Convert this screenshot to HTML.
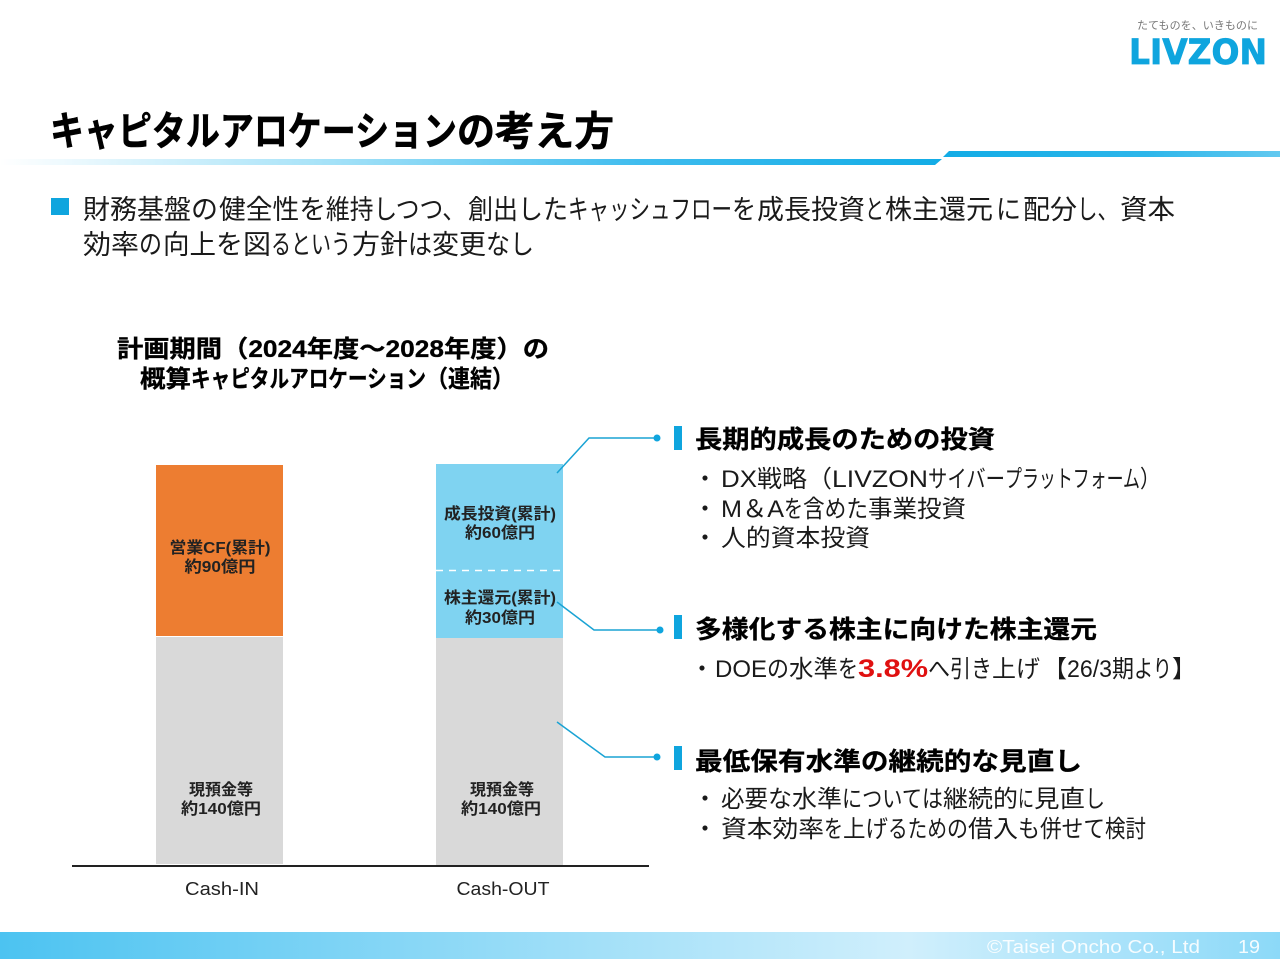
<!DOCTYPE html>
<html lang="ja">
<head>
<meta charset="utf-8">
<style>
html,body{margin:0;padding:0;background:#fff;width:1280px;height:960px;overflow:hidden}
svg{display:block;font-family:"Liberation Sans","Noto Sans CJK JP",sans-serif}
.b{font-weight:700}
</style>
</head>
<body>
<svg width="1280" height="960" viewBox="0 0 1280 960" xmlns="http://www.w3.org/2000/svg">
<defs>
<linearGradient id="g1" x1="0" x2="1" y1="0" y2="0"><stop offset="0" stop-color="#fff"/><stop offset="0.35" stop-color="#a5e2f8"/><stop offset="0.68" stop-color="#3fbcee"/><stop offset="1" stop-color="#12ace6"/></linearGradient>
<linearGradient id="g2" x1="0" x2="1" y1="0" y2="0"><stop offset="0" stop-color="#12ace6"/><stop offset="0.6" stop-color="#2db6ea"/><stop offset="1" stop-color="#62c9f0"/></linearGradient>
<linearGradient id="g3" x1="0" x2="1" y1="0" y2="0"><stop offset="0" stop-color="#4cc3f1"/><stop offset="0.71" stop-color="#d0effc"/><stop offset="1" stop-color="#8cd9f8"/></linearGradient>
</defs>

<!-- logo -->
<text x="1137" y="29" font-size="11" fill="#777" textLength="121" lengthAdjust="spacingAndGlyphs">たてものを、いきものに</text>
<text x="1129" y="64" font-size="35" class="b" fill="#0fa5de" stroke="#0fa5de" stroke-width="0.8" textLength="138" lengthAdjust="spacingAndGlyphs" style="font-family:'DejaVu Sans',sans-serif">LIVZON</text>

<!-- title -->
<g font-size="40" class="b" fill="#000" stroke="#000" stroke-width="0.6">
<text x="50" y="145" textLength="407" lengthAdjust="spacingAndGlyphs">キャピタルアロケーション</text>
<text x="457" y="145" textLength="38" lengthAdjust="spacingAndGlyphs">の</text>
<text x="495" y="145" textLength="119" lengthAdjust="spacingAndGlyphs">考え方</text>
</g>
<polygon points="0,159 942,159 935,165 0,165" fill="url(#g1)"/>
<polygon points="949,151 1280,151 1280,157 943,157" fill="url(#g2)"/>

<!-- lead -->
<rect x="51" y="198" width="18" height="17" fill="#0fa5de"/>
<g font-size="27" fill="#1a1a1a">
<text x="83" y="219" textLength="135" lengthAdjust="spacingAndGlyphs">財務基盤の</text>
<text x="219" y="219" textLength="107" lengthAdjust="spacingAndGlyphs">健全性を</text>
<text x="326" y="219" textLength="140" lengthAdjust="spacingAndGlyphs">維持しつつ、</text>
<text x="468" y="219" textLength="100" lengthAdjust="spacingAndGlyphs">創出した</text>
<text x="568" y="219" textLength="164" lengthAdjust="spacingAndGlyphs">キャッシュフロー</text>
<text x="732" y="219" textLength="24" lengthAdjust="spacingAndGlyphs">を</text>
<text x="757" y="219" textLength="108" lengthAdjust="spacingAndGlyphs">成長投資</text>
<text x="865" y="219" textLength="19" lengthAdjust="spacingAndGlyphs">と</text>
<text x="885" y="219" textLength="108" lengthAdjust="spacingAndGlyphs">株主還元</text>
<text x="996" y="219" textLength="25" lengthAdjust="spacingAndGlyphs">に</text>
<text x="1023" y="219" textLength="54" lengthAdjust="spacingAndGlyphs">配分</text>
<text x="1077" y="219" textLength="41" lengthAdjust="spacingAndGlyphs">し、</text>
<text x="1120" y="219" textLength="55" lengthAdjust="spacingAndGlyphs">資本</text>
<text x="83" y="254" textLength="56" lengthAdjust="spacingAndGlyphs">効率</text>
<text x="139" y="254" textLength="23" lengthAdjust="spacingAndGlyphs">の</text>
<text x="163" y="254" textLength="53" lengthAdjust="spacingAndGlyphs">向上</text>
<text x="216" y="254" textLength="27" lengthAdjust="spacingAndGlyphs">を</text>
<text x="243" y="254" textLength="28" lengthAdjust="spacingAndGlyphs">図</text>
<text x="271" y="254" textLength="80" lengthAdjust="spacingAndGlyphs">るという</text>
<text x="352" y="254" textLength="56" lengthAdjust="spacingAndGlyphs">方針</text>
<text x="408" y="254" textLength="24" lengthAdjust="spacingAndGlyphs">は</text>
<text x="432" y="254" textLength="54" lengthAdjust="spacingAndGlyphs">変更</text>
<text x="486" y="254" textLength="48" lengthAdjust="spacingAndGlyphs">なし</text>
</g>

<!-- chart heading -->
<g font-size="24" class="b" fill="#000" stroke="#000" stroke-width="0.3">
<text x="117" y="357" textLength="432" lengthAdjust="spacingAndGlyphs">計画期間（2024年度～2028年度）の</text>
<text x="140" y="387" textLength="51" lengthAdjust="spacingAndGlyphs">概算</text>
<text x="191" y="387" textLength="235" lengthAdjust="spacingAndGlyphs">キャピタルアロケーション</text>
<text x="426" y="387" textLength="88" lengthAdjust="spacingAndGlyphs">（連結）</text>
</g>

<!-- bars -->
<rect x="156" y="465" width="127" height="171" fill="#ed7d31"/>
<rect x="156" y="637" width="127" height="227" fill="#d9d9d9"/>
<rect x="436" y="464" width="127" height="174" fill="#7fd3f1"/>
<rect x="436" y="638" width="127" height="228" fill="#d9d9d9"/>
<line x1="436" y1="570.500" x2="563" y2="570.500" stroke="#fff" stroke-width="1.500" stroke-dasharray="7 6"/>
<line x1="72" y1="866" x2="649" y2="866" stroke="#222" stroke-width="2"/>

<!-- bar labels -->
<g font-size="16" class="b" fill="#222" text-anchor="middle">
<text x="220" y="553" textLength="101" lengthAdjust="spacingAndGlyphs">営業CF(累計)</text>
<text x="220" y="572" textLength="71" lengthAdjust="spacingAndGlyphs">約90億円</text>
<text x="500" y="519" textLength="112" lengthAdjust="spacingAndGlyphs">成長投資(累計)</text>
<text x="500" y="538" textLength="70" lengthAdjust="spacingAndGlyphs">約60億円</text>
<text x="500" y="603" textLength="112" lengthAdjust="spacingAndGlyphs">株主還元(累計)</text>
<text x="500" y="623" textLength="70" lengthAdjust="spacingAndGlyphs">約30億円</text>
<text x="221" y="795" textLength="64" lengthAdjust="spacingAndGlyphs">現預金等</text>
<text x="221" y="814" textLength="80" lengthAdjust="spacingAndGlyphs">約140億円</text>
<text x="502" y="795" textLength="64" lengthAdjust="spacingAndGlyphs">現預金等</text>
<text x="501" y="814" textLength="80" lengthAdjust="spacingAndGlyphs">約140億円</text>
</g>
<g font-size="18" fill="#222" text-anchor="middle">
<text x="222" y="895" textLength="74" lengthAdjust="spacingAndGlyphs">Cash-IN</text>
<text x="503" y="895" textLength="93" lengthAdjust="spacingAndGlyphs">Cash-OUT</text>
</g>

<!-- connectors -->
<g fill="none" stroke="#1aa3d4" stroke-width="1.500">
<polyline points="557,473 589,438 656,438"/>
<polyline points="557,602 594,630 660,630"/>
<polyline points="557,722 605,757 656,757"/>
</g>
<g fill="#0fa5de">
<circle cx="657" cy="438" r="3.500"/>
<circle cx="660" cy="630" r="3.500"/>
<circle cx="657" cy="757" r="3.500"/>
<rect x="674" y="426" width="8" height="24"/>
<rect x="674" y="615" width="8" height="24"/>
<rect x="674" y="746" width="8" height="24"/>
</g>

<!-- right side -->
<g font-size="25" class="b" fill="#000" stroke="#000" stroke-width="0.3">
<text x="695" y="448" textLength="300" lengthAdjust="spacingAndGlyphs">長期的成長のための投資</text>
<text x="695" y="638" textLength="402" lengthAdjust="spacingAndGlyphs">多様化する株主に向けた株主還元</text>
<text x="695" y="770" textLength="387" lengthAdjust="spacingAndGlyphs">最低保有水準の継続的な見直し</text>
</g>
<g font-size="24" fill="#1a1a1a">
<text x="693" y="487">・</text>
<text x="721" y="487" textLength="36" lengthAdjust="spacingAndGlyphs">DX</text>
<text x="757" y="487" textLength="50" lengthAdjust="spacingAndGlyphs">戦略</text>
<text x="807" y="487" textLength="25" lengthAdjust="spacingAndGlyphs">（</text>
<text x="832" y="487" textLength="96" lengthAdjust="spacingAndGlyphs">LIVZON</text>
<text x="928" y="487" textLength="77" lengthAdjust="spacingAndGlyphs">サイバー</text>
<text x="1005" y="487" textLength="135" lengthAdjust="spacingAndGlyphs">プラットフォーム</text>
<text x="1140" y="487" textLength="20" lengthAdjust="spacingAndGlyphs">）</text>

<text x="693" y="517">・</text>
<text x="721" y="517" textLength="63" lengthAdjust="spacingAndGlyphs">M＆A</text>
<text x="784" y="517" textLength="19" lengthAdjust="spacingAndGlyphs">を</text>
<text x="803" y="517" textLength="65" lengthAdjust="spacingAndGlyphs">含めた</text>
<text x="868" y="517" textLength="98" lengthAdjust="spacingAndGlyphs">事業投資</text>

<text x="693" y="546">・</text>
<text x="721" y="546" textLength="149" lengthAdjust="spacingAndGlyphs">人的資本投資</text>

<text x="690" y="677">・</text>
<text x="715" y="677" textLength="52" lengthAdjust="spacingAndGlyphs">DOE</text>
<text x="767" y="677" textLength="22" lengthAdjust="spacingAndGlyphs">の</text>
<text x="789" y="677" textLength="49" lengthAdjust="spacingAndGlyphs">水準</text>
<text x="838" y="677" textLength="20" lengthAdjust="spacingAndGlyphs">を</text>
<text x="858" y="677" class="b" fill="#e01010" textLength="70" lengthAdjust="spacingAndGlyphs" font-size="25">3.8%</text>
<text x="928" y="677" textLength="22" lengthAdjust="spacingAndGlyphs">へ</text>
<text x="950" y="677" textLength="42" lengthAdjust="spacingAndGlyphs">引き</text>
<text x="992" y="677" textLength="48" lengthAdjust="spacingAndGlyphs">上げ</text>
<text x="1043" y="677" textLength="24" lengthAdjust="spacingAndGlyphs">【</text>
<text x="1067" y="677" textLength="45" lengthAdjust="spacingAndGlyphs">26/3</text>
<text x="1112" y="677" textLength="22" lengthAdjust="spacingAndGlyphs">期</text>
<text x="1134" y="677" textLength="38" lengthAdjust="spacingAndGlyphs">より</text>
<text x="1172" y="677" textLength="24" lengthAdjust="spacingAndGlyphs">】</text>

<text x="693" y="807">・</text>
<text x="721" y="807" textLength="47" lengthAdjust="spacingAndGlyphs">必要</text>
<text x="768" y="807" textLength="24" lengthAdjust="spacingAndGlyphs">な</text>
<text x="792" y="807" textLength="50" lengthAdjust="spacingAndGlyphs">水準</text>
<text x="842" y="807" textLength="80" lengthAdjust="spacingAndGlyphs">について</text>
<text x="922" y="807" textLength="21" lengthAdjust="spacingAndGlyphs">は</text>
<text x="943" y="807" textLength="75" lengthAdjust="spacingAndGlyphs">継続的</text>
<text x="1018" y="807" textLength="16" lengthAdjust="spacingAndGlyphs">に</text>
<text x="1034" y="807" textLength="51" lengthAdjust="spacingAndGlyphs">見直</text>
<text x="1085" y="807" textLength="20" lengthAdjust="spacingAndGlyphs">し</text>

<text x="693" y="837">・</text>
<text x="721" y="837" textLength="103" lengthAdjust="spacingAndGlyphs">資本効率</text>
<text x="824" y="837" textLength="19" lengthAdjust="spacingAndGlyphs">を</text>
<text x="843" y="837" textLength="45" lengthAdjust="spacingAndGlyphs">上げ</text>
<text x="888" y="837" textLength="59" lengthAdjust="spacingAndGlyphs">るため</text>
<text x="947" y="837" textLength="21" lengthAdjust="spacingAndGlyphs">の</text>
<text x="968" y="837" textLength="50" lengthAdjust="spacingAndGlyphs">借入</text>
<text x="1018" y="837" textLength="22" lengthAdjust="spacingAndGlyphs">も</text>
<text x="1040" y="837" textLength="65" lengthAdjust="spacingAndGlyphs">併せて</text>
<text x="1105" y="837" textLength="41" lengthAdjust="spacingAndGlyphs">検討</text>
</g>

<!-- footer -->
<rect x="0" y="932" width="1280" height="27" fill="url(#g3)"/>
<text x="987" y="953" font-size="18" fill="#fff" fill-opacity="0.9" textLength="213" lengthAdjust="spacingAndGlyphs">©Taisei Oncho Co., Ltd</text>
<text x="1238" y="953" font-size="18" fill="#fff" fill-opacity="0.9" textLength="22" lengthAdjust="spacingAndGlyphs">19</text>
</svg>
</body>
</html>
